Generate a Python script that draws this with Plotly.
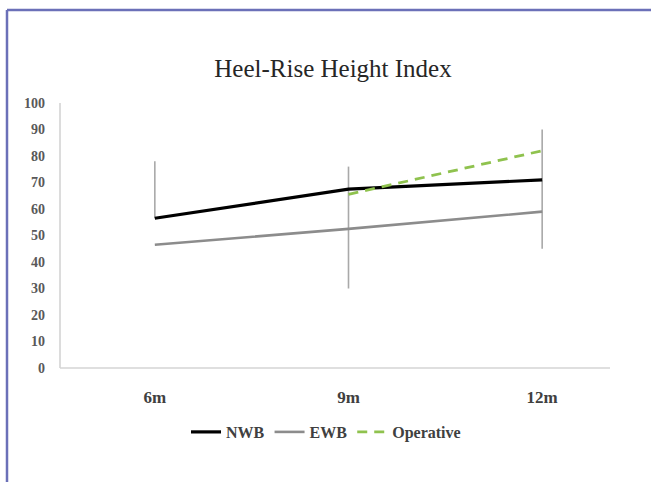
import plotly.graph_objects as go

categories = ["6m", "9m", "12m"]
nwb = [56.5, 67.5, 71.0]
ewb = [46.5, 52.5, 59.0]
operative = [None, 65.5, 82.0]

nwb_err_plus = [21.5, 8.5, 19.0]
nwb_err_minus = [0, 0, 0]
ewb_err_plus = [0, 15.0, 12.0]
ewb_err_minus = [0, 22.5, 14.0]

y_ticks = [0, 10, 20, 30, 40, 50, 60, 70, 80, 90, 100]

W, H = 651, 482
L, R, T, B = 58, 12, 103, 114
pw, ph = W - L - R, H - T - B

def px_x(x):
    return (x - L) / pw

def px_y(y):
    return (H - B - y) / ph

err_color = "#a9a9a9"
serif = "Liberation Serif, DejaVu Serif, serif"
fig = go.Figure()
fig.add_trace(go.Scatter(
    x=categories, y=ewb, mode="lines", name="EWB", showlegend=False,
    line=dict(color="rgba(0,0,0,0)", width=0),
    error_y=dict(type="data", symmetric=False, array=ewb_err_plus, arrayminus=ewb_err_minus,
                 color=err_color, thickness=1.6, width=0),
    hoverinfo="skip"))
fig.add_trace(go.Scatter(
    x=categories, y=nwb, mode="lines", name="NWB", showlegend=False,
    line=dict(color="rgba(0,0,0,0)", width=0),
    error_y=dict(type="data", symmetric=False, array=nwb_err_plus, arrayminus=nwb_err_minus,
                 color=err_color, thickness=1.6, width=0),
    hoverinfo="skip"))
fig.add_trace(go.Scatter(x=categories, y=nwb, mode="lines", name="NWB",
                         line=dict(color="#000000", width=3.2)))
fig.add_trace(go.Scatter(x=categories, y=ewb, mode="lines", name="EWB",
                         line=dict(color="#8c8c8c", width=2.6)))
fig.add_trace(go.Scatter(x=categories, y=operative, mode="lines", name="Operative",
                         line=dict(color="#8fc24e", width=2.8, dash="10px,7px")))

fig.update_layout(
    width=W, height=H,
    margin=dict(l=L, r=R, t=T, b=B),
    paper_bgcolor="white", plot_bgcolor="white",
    font=dict(family=serif, color="#404040"),
    title=dict(text="Heel-Rise Height Index", x=333 / W, xanchor="center",
               y=1 - 68 / H, yanchor="middle", yref="container",
               font=dict(size=25, color="#262626", family=serif)),
    xaxis=dict(type="category", range=[-0.5, 2.5], showgrid=False, showline=False,
               zeroline=False, ticks="", ticklabelstandoff=17,
               tickfont=dict(size=17, color="#404040", family=serif, weight="bold")),
    yaxis=dict(range=[0, 100], tickvals=y_ticks, showgrid=False, showline=False,
               zeroline=False, ticks="", ticklabelstandoff=12,
               tickfont=dict(size=14, color="#595959", family=serif, weight="bold")),
    legend=dict(orientation="h", x=px_x(326), xanchor="center", y=px_y(432), yanchor="middle",
                font=dict(size=16, color="#404040", family=serif, weight="bold"),
                bgcolor="rgba(0,0,0,0)", itemwidth=30),
    showlegend=True,
    shapes=[
        dict(type="line", xref="paper", yref="paper", x0=px_x(60), x1=px_x(610),
             y0=0, y1=0, line=dict(color="#d4d4d4", width=1.6), layer="below"),
        dict(type="line", xref="paper", yref="paper", x0=px_x(60), x1=px_x(60),
             y0=0, y1=1, line=dict(color="#d4d4d4", width=1.6), layer="below"),
        dict(type="line", xref="paper", yref="paper", x0=px_x(7), x1=px_x(W + 5),
             y0=px_y(10), y1=px_y(10), line=dict(color="#6b70b8", width=2.5)),
        dict(type="line", xref="paper", yref="paper", x0=px_x(7), x1=px_x(7),
             y0=px_y(10), y1=px_y(H + 5), line=dict(color="#6b70b8", width=2.5)),
    ],
)

fig.write_html("out.html", config={"displayModeBar": False},
               post_script="document.body.style.margin='0';document.body.style.overflow='hidden';")
